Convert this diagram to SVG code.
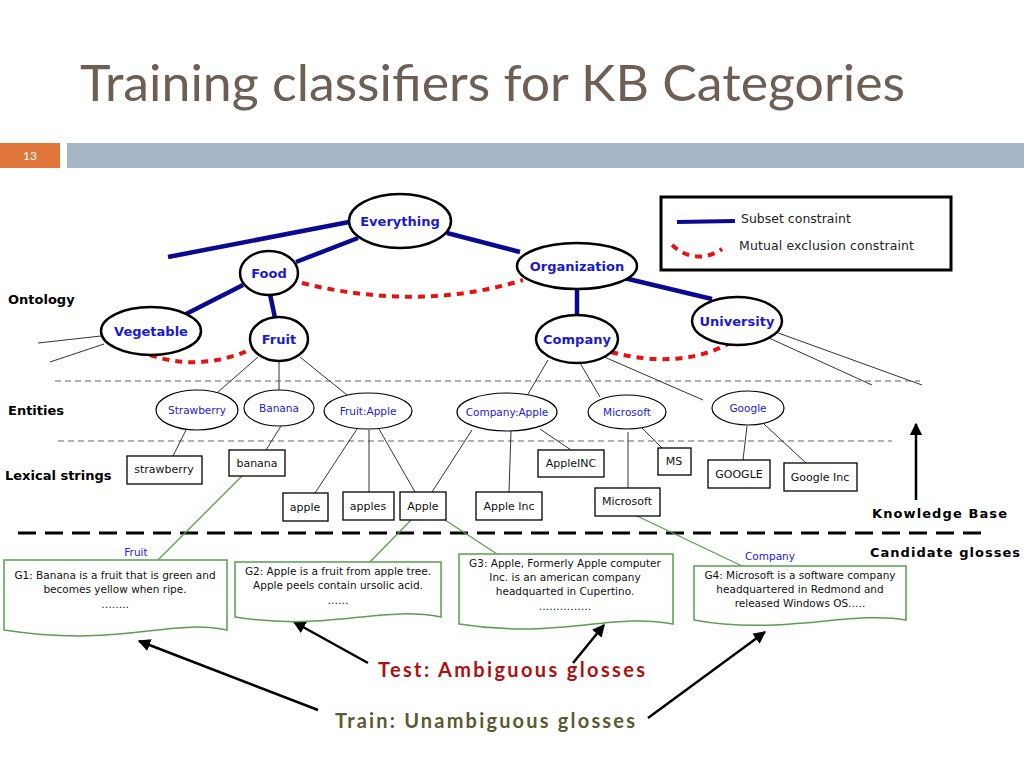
<svg xmlns="http://www.w3.org/2000/svg" width="1024" height="768" viewBox="0 0 1024 768">
<defs>
<marker id="ah" viewBox="0 0 10 10" refX="9" refY="5" markerWidth="5" markerHeight="5" orient="auto-start-reverse"><path d="M0,0 L10,5 L0,10 z" fill="#000"/></marker>
<style>
.t{font-family:"DejaVu Sans",sans-serif}
.onto{fill:#fff;stroke:#000;stroke-width:2.5}
.ob{font-family:"DejaVu Sans",sans-serif;font-weight:bold;font-size:13px;fill:#1a1ad0;text-anchor:middle}
.sub{stroke:#0a0a90;stroke-width:4.5;fill:none}
.mx{stroke:#e81010;stroke-width:4;stroke-dasharray:7 6;fill:none}
.thin{stroke:#333;stroke-width:1;fill:none}
.ent{fill:#fff;stroke:#000;stroke-width:1.2}
.el{font-family:"DejaVu Sans",sans-serif;font-size:10.5px;fill:#2020e0;text-anchor:middle}
.box{fill:#fff;stroke:#000;stroke-width:1.3}
.bl{font-family:"DejaVu Sans",sans-serif;font-size:11px;fill:#111;text-anchor:middle}
.lab{font-family:"DejaVu Sans",sans-serif;font-weight:bold;font-size:13px;fill:#000}
.doc{fill:#fff;stroke:#5aa050;stroke-width:1.5}
.gl{stroke:#5aa050;stroke-width:1.3;fill:none}
.dt{font-family:"DejaVu Sans",sans-serif;font-size:10.5px;fill:#111;text-anchor:middle}
.arr{stroke:#000;stroke-width:2.5;fill:none;marker-end:url(#ah)}
</style>
</defs>
<rect width="1024" height="768" fill="#fff"/>
<text x="80" y="101" font-family="Lato, 'Open Sans', sans-serif" font-size="50" fill="#6e5f55" textLength="825" lengthAdjust="spacingAndGlyphs">Training classifiers for KB Categories</text>
<rect x="0" y="143" width="60" height="25" fill="#e0763a"/>
<text x="30" y="160" font-family="Lato, sans-serif" font-size="12" fill="#fff" text-anchor="middle">13</text>
<rect x="67" y="143" width="957" height="25" fill="#a6b8c8"/>

<g id="connectors">
<line class="sub" x1="168" y1="257" x2="349" y2="222"/>
<line class="sub" x1="358" y1="238" x2="296" y2="262"/>
<line class="sub" x1="447" y1="233" x2="520" y2="252"/>
<line class="sub" x1="243" y1="285" x2="186" y2="314"/>
<line class="sub" x1="270" y1="294" x2="275" y2="318"/>
<line class="sub" x1="577" y1="289" x2="577" y2="316"/>
<line class="sub" x1="620" y1="277" x2="712" y2="299"/>
<path class="mx" d="M302,283 Q420,312 523,280"/>
<path class="mx" d="M150,355 Q200,372 252,349"/>
<path class="mx" d="M611,352 Q680,370 730,343"/>
<line class="thin" x1="38" y1="343" x2="101" y2="336"/>
<line class="thin" x1="50" y1="362" x2="104" y2="344"/>
<line class="thin" x1="758" y1="333" x2="872" y2="385"/>
<line class="thin" x1="770" y1="330" x2="922" y2="385"/>
<line x1="55" y1="381" x2="920" y2="381" stroke="#666" stroke-width="1.2" stroke-dasharray="6 4"/>
<line x1="58" y1="441" x2="892" y2="441" stroke="#666" stroke-width="1.2" stroke-dasharray="6 4"/>
<line class="thin" x1="258" y1="357" x2="218" y2="392"/>
<line class="thin" x1="279" y1="361" x2="279" y2="390"/>
<line class="thin" x1="300" y1="357" x2="347" y2="395"/>
<line class="thin" x1="548" y1="360" x2="528" y2="394"/>
<line class="thin" x1="580" y1="363" x2="600" y2="397"/>
<line class="thin" x1="602" y1="356" x2="703" y2="400"/>
<line class="thin" x1="186" y1="430" x2="173" y2="456"/>
<line class="thin" x1="281" y1="426" x2="266" y2="450"/>
<line class="thin" x1="357" y1="429" x2="315" y2="493"/>
<line class="thin" x1="369" y1="430" x2="369" y2="492"/>
<line class="thin" x1="379" y1="429" x2="415" y2="492"/>
<line class="thin" x1="472" y1="430" x2="432" y2="492"/>
<line class="thin" x1="511" y1="431" x2="509" y2="492"/>
<line class="thin" x1="540" y1="429" x2="571" y2="450"/>
<line class="thin" x1="628" y1="432" x2="628" y2="488"/>
<line class="thin" x1="642" y1="428" x2="662" y2="448"/>
<line class="thin" x1="747" y1="426" x2="743" y2="460"/>
<line class="thin" x1="764" y1="424" x2="806" y2="463"/>
<line x1="18" y1="533" x2="990" y2="533" stroke="#000" stroke-width="3" stroke-dasharray="18 9"/>
<line class="gl" x1="242" y1="476" x2="158" y2="560"/>
<line class="gl" x1="411" y1="520" x2="370" y2="562"/>
<line class="gl" x1="445" y1="520" x2="497" y2="554"/>
<line class="gl" x1="635" y1="515" x2="742" y2="566"/>
<line class="arr" x1="916" y1="500" x2="916" y2="424"/>
<line class="arr" x1="368" y1="663" x2="294" y2="622"/>
<line class="arr" x1="573" y1="663" x2="604" y2="625"/>
<line class="arr" x1="318" y1="710" x2="139" y2="641"/>
<line class="arr" x1="648" y1="718" x2="765" y2="632"/>
</g>

<g id="legend">
<rect x="661" y="197" width="290" height="73" fill="#fff" stroke="#000" stroke-width="3"/>
<line x1="677" y1="222" x2="735" y2="221" stroke="#0a0a90" stroke-width="4"/>
<text class="t" x="741" y="223" font-size="12.5" fill="#222">Subset constraint</text>
<path class="mx" d="M672,245 Q696,266 722,249" stroke-width="3.5" stroke-dasharray="5 5"/>
<text class="t" x="739" y="250" font-size="12.5" fill="#222" textLength="175">Mutual exclusion constraint</text>
</g>

<g id="everything"><ellipse class="onto" cx="400" cy="221" rx="51" ry="27"/><text class="ob" x="400" y="226">Everything</text></g>
<g id="food"><ellipse class="onto" cx="269" cy="273" rx="29" ry="22"/><text class="ob" x="269" y="278">Food</text></g>
<g id="organization"><ellipse class="onto" cx="577" cy="266" rx="60" ry="23"/><text class="ob" x="577" y="271">Organization</text></g>
<g id="vegetable"><ellipse class="onto" cx="151" cy="331" rx="50" ry="24"/><text class="ob" x="151" y="336">Vegetable</text></g>
<g id="fruit"><ellipse class="onto" cx="279" cy="339" rx="29" ry="22"/><text class="ob" x="279" y="344">Fruit</text></g>
<g id="company"><ellipse class="onto" cx="577" cy="339" rx="41" ry="24"/><text class="ob" x="577" y="344">Company</text></g>
<g id="university"><ellipse class="onto" cx="737" cy="321" rx="45" ry="24"/><text class="ob" x="737" y="326">University</text></g>

<g id="e-strawberry"><ellipse class="ent" cx="197" cy="410" rx="41" ry="20"/><text class="el" x="197" y="414">Strawberry</text></g>
<g id="e-banana"><ellipse class="ent" cx="279" cy="408" rx="35" ry="18"/><text class="el" x="279" y="412">Banana</text></g>
<g id="e-fruitapple"><ellipse class="ent" cx="368" cy="411" rx="44" ry="18"/><text class="el" x="368" y="415">Fruit:Apple</text></g>
<g id="e-companyapple"><ellipse class="ent" cx="507" cy="412" rx="50" ry="19"/><text class="el" x="507" y="416">Company:Apple</text></g>
<g id="e-microsoft"><ellipse class="ent" cx="627" cy="412" rx="39" ry="17"/><text class="el" x="627" y="416">Microsoft</text></g>
<g id="e-google"><ellipse class="ent" cx="748" cy="408" rx="36" ry="17"/><text class="el" x="748" y="412">Google</text></g>

<g id="l-strawberry"><rect class="box" x="127" y="456" width="75" height="28"/><text class="bl" x="164" y="473">strawberry</text></g>
<g id="l-banana"><rect class="box" x="229" y="450" width="56" height="26"/><text class="bl" x="257" y="467">banana</text></g>
<g id="l-apple"><rect class="box" x="283" y="493" width="45" height="28"/><text class="bl" x="305" y="511">apple</text></g>
<g id="l-apples"><rect class="box" x="343" y="492" width="51" height="28"/><text class="bl" x="368" y="510">apples</text></g>
<g id="l-Apple"><rect class="box" x="400" y="492" width="46" height="28"/><text class="bl" x="423" y="510">Apple</text></g>
<g id="l-appleinc2"><rect class="box" x="538" y="450" width="66" height="27"/><text class="bl" x="571" y="467">AppleINC</text></g>
<g id="l-appleinc"><rect class="box" x="476" y="492" width="66" height="28"/><text class="bl" x="509" y="510">Apple Inc</text></g>
<g id="l-ms"><rect class="box" x="658" y="448" width="33" height="27"/><text class="bl" x="674" y="465">MS</text></g>
<g id="l-microsoft"><rect class="box" x="595" y="488" width="65" height="28"/><text class="bl" x="627" y="505">Microsoft</text></g>
<g id="l-GOOGLE"><rect class="box" x="708" y="460" width="62" height="28"/><text class="bl" x="739" y="478">GOOGLE</text></g>
<g id="l-googleinc"><rect class="box" x="784" y="463" width="73" height="28"/><text class="bl" x="820" y="481">Google Inc</text></g>

<text class="lab" x="8" y="304">Ontology</text>
<text class="lab" x="8" y="415">Entities</text>
<text class="lab" x="5" y="480">Lexical strings</text>
<text class="lab" x="872" y="518" font-size="14" textLength="135">Knowledge Base</text>
<text class="lab" x="870" y="557" font-size="14" textLength="150">Candidate glosses</text>

<text class="el" x="136" y="556" font-size="11">Fruit</text>
<text class="el" x="770" y="560" font-size="11">Company</text>

<g id="g1"><path class="doc" d="M4,560 H227 V630 C170,618 120,648 4,630 Z"/>
<text class="dt" x="115" y="579">G1: Banana is a fruit that is green and</text><text class="dt" x="115" y="593">becomes yellow when ripe.</text><text class="dt" x="115" y="608">……..</text></g>
<g id="g2"><path class="doc" d="M235,562 H441 V617 C380,605 330,632 235,617 Z"/>
<text class="dt" x="338" y="575">G2: Apple is a fruit from apple tree.</text><text class="dt" x="338" y="589">Apple peels contain ursolic acid.</text><text class="dt" x="338" y="604">……</text></g>
<g id="g3"><path class="doc" d="M459,554 H673 V624 C610,612 560,640 459,624 Z"/>
<text class="dt" x="565" y="567">G3: Apple, Formerly Apple computer</text><text class="dt" x="565" y="581">Inc. is an american company</text><text class="dt" x="565" y="595">headquarted in Cupertino.</text><text class="dt" x="565" y="610">……………</text></g>
<g id="g4"><path class="doc" d="M694,566 H906 V620 C850,610 780,636 694,620 Z"/>
<text class="dt" x="800" y="579">G4: Microsoft is a software company</text><text class="dt" x="800" y="593">headquartered in Redmond and</text><text class="dt" x="800" y="607">released Windows OS.….</text></g>

<text x="378" y="677" font-family="Lato, sans-serif" font-weight="bold" font-size="20" fill="#b01010" textLength="267">Test: Ambiguous  glosses</text>
<text x="335" y="728" font-family="Lato, sans-serif" font-weight="bold" font-size="20" fill="#5a5a30" textLength="300">Train: Unambiguous glosses</text>
</svg>
